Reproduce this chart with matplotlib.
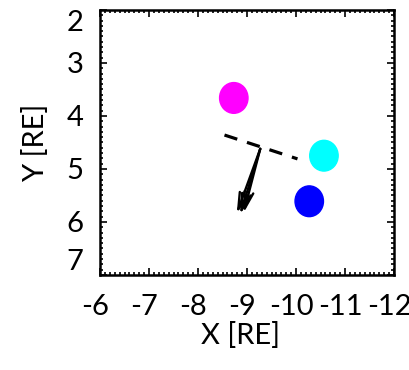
import matplotlib.pyplot as plt
from matplotlib.patches import Ellipse
from matplotlib.ticker import MultipleLocator
from matplotlib.transforms import ScaledTranslation

plt.rcParams['font.family'] = ['Lato', 'DejaVu Sans']
plt.rcParams['axes.unicode_minus'] = False

# spacecraft positions (RE)
sc_x = [-8.73, -10.57, -10.27]
sc_y = [3.66, 4.75, 5.61]
sc_colors = ['#ff00ff', '#00ffff', '#0000ff']
sc_radius = 0.29

# dashed boundary segment
line_x = [-8.54, -10.03]
line_y = [4.36, 4.81]

# arrows (velocity vectors)
arr_x0 = -9.27
arr_y0 = 4.62
arr_x1 = [-8.79, -8.86, -8.93]
arr_y1 = [5.84, 5.86, 5.83]

xticks = [-6, -7, -8, -9, -10, -11, -12]
yticks = [2, 3, 4, 5, 6, 7]

fig = plt.figure(figsize=(4.1, 3.7), dpi=100)
ax = fig.add_axes([0.244, 0.257, 0.717, 0.716])

for x, y, c in zip(sc_x, sc_y, sc_colors):
    ax.add_patch(Ellipse((x, y), 2 * sc_radius, 2 * sc_radius, color=c, zorder=3))

ax.plot(line_x, line_y, color='black', lw=2.3, dashes=(4.2, 3.2), zorder=2)

for x1, y1 in zip(arr_x1, arr_y1):
    ax.annotate('', xy=(x1, y1), xytext=(arr_x0, arr_y0),
                arrowprops=dict(arrowstyle='->,head_length=1.2,head_width=0.32',
                                color='black', lw=1.7, shrinkA=0, shrinkB=0))

ax.set_xlim(-6, -12)
ax.set_ylim(7, 2)
ax.set_xticks(xticks)
ax.set_yticks(yticks)
ax.xaxis.set_minor_locator(MultipleLocator(0.1))
ax.yaxis.set_minor_locator(MultipleLocator(0.1))
ax.tick_params(which='both', direction='in', top=True, right=True, width=1.2)
ax.tick_params(which='major', length=5)
ax.tick_params(which='minor', length=2.5)
ax.tick_params(axis='x', which='major', labelsize=21, pad=14)
ax.tick_params(axis='y', which='major', labelsize=21, pad=12)
for s in ax.spines.values():
    s.set_linewidth(1.8)

ylabels = ax.get_yticklabels()
ylabels[0].set_verticalalignment('top')
ylabels[-1].set_verticalalignment('bottom')

shift = ScaledTranslation(-5 / 100, 0, fig.dpi_scale_trans)
for lab in ax.get_xticklabels():
    lab.set_transform(lab.get_transform() + shift)

ax.set_xlabel('X [RE]', fontsize=21, va='center')
ax.xaxis.set_label_coords(0.478, -0.228)
ax.set_ylabel('Y [RE]', fontsize=21, va='center')
ax.yaxis.set_label_coords(-0.221, 0.5)

fig.savefig('out.png', dpi=100)
